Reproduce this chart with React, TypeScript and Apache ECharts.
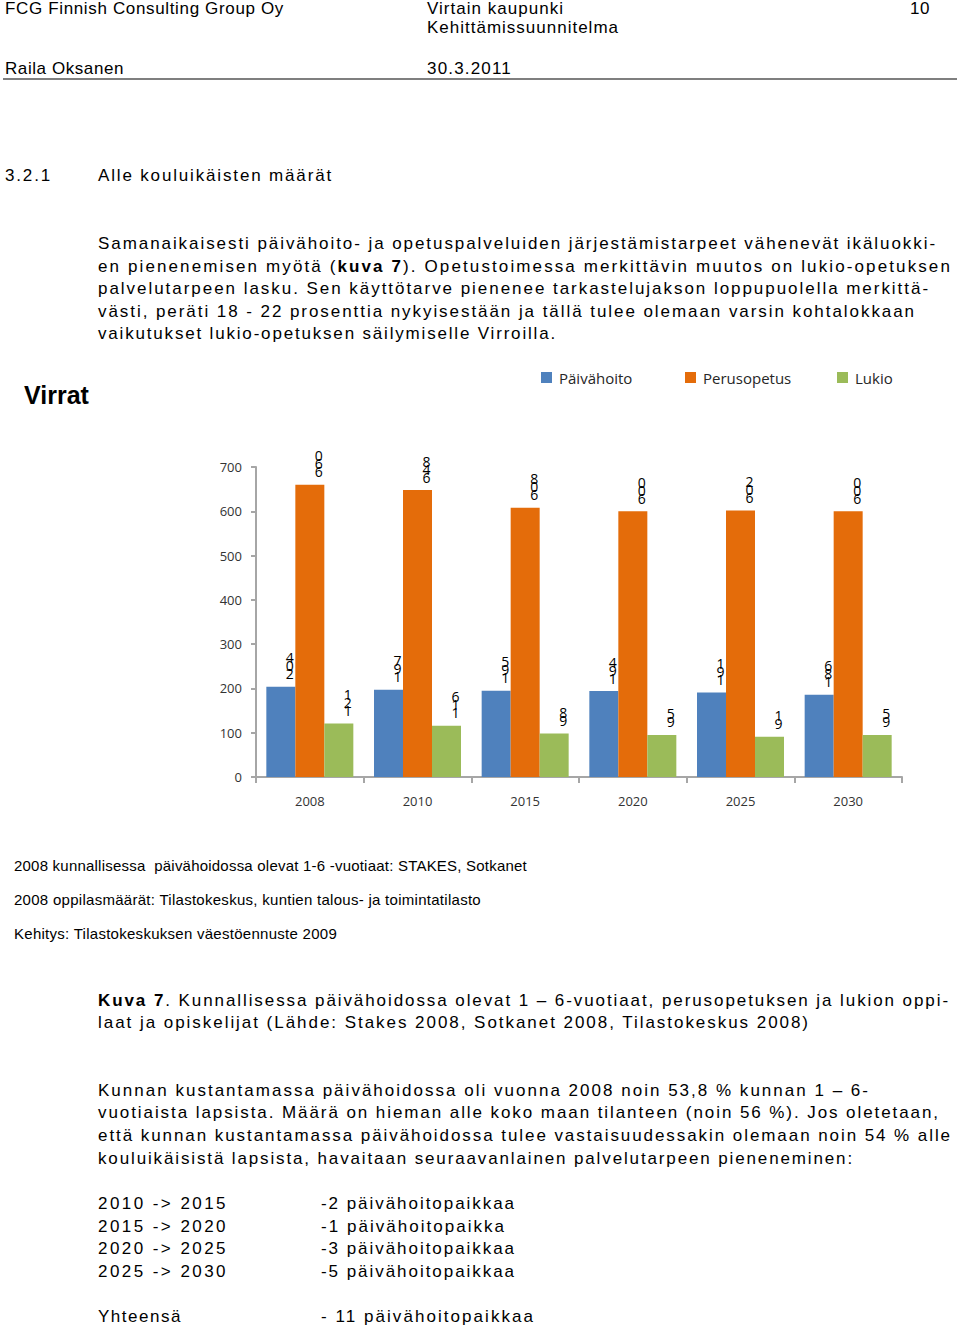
import React, { useEffect, useLayoutEffect, useRef } from "react";
import * as echarts from "echarts";

const categories = ["2008", "2010", "2015", "2020", "2025", "2030"];
const seriesNames = ["Päivähoito", "Perusopetus", "Lukio"];
const paivahoito = [204, 197, 195, 194, 191, 186];
const perusopetus = [660, 648, 608, 600, 602, 600];
const lukio = [121, 116, 98, 95, 91, 95];
const colors = ["#4F81BD", "#E46C0A", "#9BBB59"];

const BODY = '"Liberation Sans Narrow", "Liberation Sans", Arial, sans-serif';
const ARIAL = '"Liberation Sans", Arial, sans-serif';
const CHARTFONT = '"Open Sans", "Noto Sans", sans-serif';

type LineProps = {
  x: number;
  y: number;
  w?: number;
  size?: number;
  family?: string;
  bold?: boolean;
  dy?: number;
  children: React.ReactNode;
};

function FitLine({ x, y, w, size = 17, family = BODY, bold = false, dy = 2, children }: LineProps) {
  const ref = useRef<HTMLDivElement>(null);
  useLayoutEffect(() => {
    const fit = () => {
      const el = ref.current;
      if (!el || !w) return;
      el.style.letterSpacing = "0px";
      const nat = el.getBoundingClientRect().width;
      const n = (el.textContent || "").length;
      if (n > 1) el.style.letterSpacing = (w - nat) / n + "px";
    };
    fit();
    if ((document as any).fonts && (document as any).fonts.ready) {
      (document as any).fonts.ready.then(fit);
    }
  }, []);
  return (
    <div
      ref={ref}
      style={{
        position: "absolute",
        left: x,
        top: y - size * 0.62 + dy,
        fontSize: size,
        lineHeight: size * 1.2 + "px",
        whiteSpace: "pre",
        fontFamily: family,
        fontWeight: bold ? "bold" : "normal",
        color: "#000",
      }}
    >
      {children}
    </div>
  );
}

function Chart() {
  const ref = useRef<HTMLDivElement>(null);
  useEffect(() => {
    if (!ref.current) return;
    const chart = echarts.init(ref.current, undefined, { renderer: "svg" });
    const valueLists = [paivahoito, perusopetus, lukio];
    const legendLefts = [536, 680, 832];
    chart.setOption({
      animation: false,
      title: {
        text: "Virrat",
        left: 19,
        top: 22,
        textStyle: {
          fontSize: 25,
          fontWeight: "bold",
          fontFamily: BODY,
          color: "#000",
        },
      },
      legend: seriesNames.map((name, i) => ({
        data: [name],
        left: legendLefts[i],
        top: 10,
        itemWidth: 11,
        itemHeight: 11,
        icon: "rect",
        itemGap: 0,
        textStyle: {
          fontSize: 15,
          fontFamily: CHARTFONT,
          color: "#262626",
          padding: [0, 0, 0, 2],
        },
      })),
      grid: { left: 256, right: 58, top: 112, bottom: 48, containLabel: false },
      xAxis: {
        type: "category",
        data: categories,
        axisLine: { show: true, lineStyle: { color: "#A6A6A6", width: 2 } },
        axisTick: { show: true, length: 6, lineStyle: { color: "#A6A6A6", width: 2 } },
        axisLabel: { fontSize: 13, fontFamily: CHARTFONT, color: "#333", margin: 17 },
        splitLine: { show: false },
      },
      yAxis: {
        type: "value",
        min: 0,
        max: 700,
        interval: 100,
        axisLine: { show: true, lineStyle: { color: "#A6A6A6", width: 2 } },
        axisTick: { show: true, length: 5, lineStyle: { color: "#A6A6A6", width: 2 } },
        axisLabel: { fontSize: 13, fontFamily: CHARTFONT, color: "#333", margin: 14 },
        splitLine: { show: false },
      },
      series: seriesNames.map((name, i) => ({
        name,
        type: "bar",
        data: valueLists[i],
        barWidth: 29,
        barGap: "0%",
        itemStyle: { color: colors[i] },
        label: {
          show: true,
          position: "top",
          distance: 9,
          offset: [9, 0],
          formatter: (p: any) => String(p.value).split("").reverse().join("\n"),
          fontSize: 14,
          lineHeight: 8,
          color: "#000",
          fontFamily: CHARTFONT,
        },
      })),
    });
    return () => chart.dispose();
  }, []);
  return (
    <div
      ref={ref}
      style={{ position: "absolute", left: 0, top: 355, width: 960, height: 470 }}
    />
  );
}

export default function App() {
  return (
    <div
      style={{
        position: "absolute",
        left: 0,
        top: 0,
        width: 960,
        height: 1328,
        background: "#fff",
        overflow: "hidden",
      }}
    >
      <FitLine x={5} y={8} w={279}>FCG Finnish Consulting Group Oy</FitLine>
      <FitLine x={427} y={8} w={137}>Virtain kaupunki</FitLine>
      <FitLine x={427} y={27} w={192}>Kehittämissuunnitelma</FitLine>
      <FitLine x={910} y={8} w={20}>10</FitLine>
      <FitLine x={5} y={68} w={119}>Raila Oksanen</FitLine>
      <FitLine x={427} y={68} w={85}>30.3.2011</FitLine>
      <div
        style={{
          position: "absolute",
          left: 3,
          top: 78,
          width: 954,
          height: 2,
          background: "#7F7F7F",
        }}
      />

      <FitLine x={5} y={175} w={47}>3.2.1</FitLine>
      <FitLine x={98} y={175} w={235}>Alle kouluikäisten määrät</FitLine>

      <FitLine x={98} y={243} w={839}>
        Samanaikaisesti päivähoito- ja opetuspalveluiden järjestämistarpeet vähenevät ikäluokki-
      </FitLine>
      <FitLine x={98} y={266} w={854}>
        en pienenemisen myötä (<b>kuva 7</b>). Opetustoimessa merkittävin muutos on lukio-opetuksen
      </FitLine>
      <FitLine x={98} y={288} w={832}>
        palvelutarpeen lasku. Sen käyttötarve pienenee tarkastelujakson loppupuolella merkittä-
      </FitLine>
      <FitLine x={98} y={311} w={818}>
        västi, peräti 18 - 22 prosenttia nykyisestään ja tällä tulee olemaan varsin kohtalokkaan
      </FitLine>
      <FitLine x={98} y={333} w={459}>
        vaikutukset lukio-opetuksen säilymiselle Virroilla.
      </FitLine>

      <Chart />

      <FitLine x={14} y={866} w={513} size={15} family={ARIAL} dy={0}>
        2008 kunnallisessa  päivähoidossa olevat 1-6 -vuotiaat: STAKES, Sotkanet
      </FitLine>
      <FitLine x={14} y={900} w={467} size={15} family={ARIAL} dy={0}>
        2008 oppilasmäärät: Tilastokeskus, kuntien talous- ja toimintatilasto
      </FitLine>
      <FitLine x={14} y={934} w={323} size={15} family={ARIAL} dy={0}>
        Kehitys: Tilastokeskuksen väestöennuste 2009
      </FitLine>

      <FitLine x={98} y={1000} w={852}>
        <b>Kuva 7</b>. Kunnallisessa päivähoidossa olevat 1 – 6-vuotiaat, perusopetuksen ja lukion oppi-
      </FitLine>
      <FitLine x={98} y={1022} w={712}>
        laat ja opiskelijat (Lähde: Stakes 2008, Sotkanet 2008, Tilastokeskus 2008)
      </FitLine>

      <FitLine x={98} y={1090} w={772}>
        Kunnan kustantamassa päivähoidossa oli vuonna 2008 noin 53,8 % kunnan 1 – 6-
      </FitLine>
      <FitLine x={98} y={1112} w={842}>
        vuotiaista lapsista. Määrä on hieman alle koko maan tilanteen (noin 56 %). Jos oletetaan,
      </FitLine>
      <FitLine x={98} y={1135} w={854}>
        että kunnan kustantamassa päivähoidossa tulee vastaisuudessakin olemaan noin 54 % alle
      </FitLine>
      <FitLine x={98} y={1158} w={756}>
        kouluikäisistä lapsista, havaitaan seuraavanlainen palvelutarpeen pieneneminen:
      </FitLine>

      <FitLine x={98} y={1203} w={130}>2010 -&gt; 2015</FitLine>
      <FitLine x={321} y={1203} w={195}>-2 päivähoitopaikkaa</FitLine>
      <FitLine x={98} y={1226} w={130}>2015 -&gt; 2020</FitLine>
      <FitLine x={321} y={1226} w={185}>-1 päivähoitopaikka</FitLine>
      <FitLine x={98} y={1248} w={130}>2020 -&gt; 2025</FitLine>
      <FitLine x={321} y={1248} w={195}>-3 päivähoitopaikkaa</FitLine>
      <FitLine x={98} y={1271} w={130}>2025 -&gt; 2030</FitLine>
      <FitLine x={321} y={1271} w={195}>-5 päivähoitopaikkaa</FitLine>

      <FitLine x={98} y={1316} w={84}>Yhteensä</FitLine>
      <FitLine x={321} y={1316} w={214}>- 11 päivähoitopaikkaa</FitLine>
    </div>
  );
}
